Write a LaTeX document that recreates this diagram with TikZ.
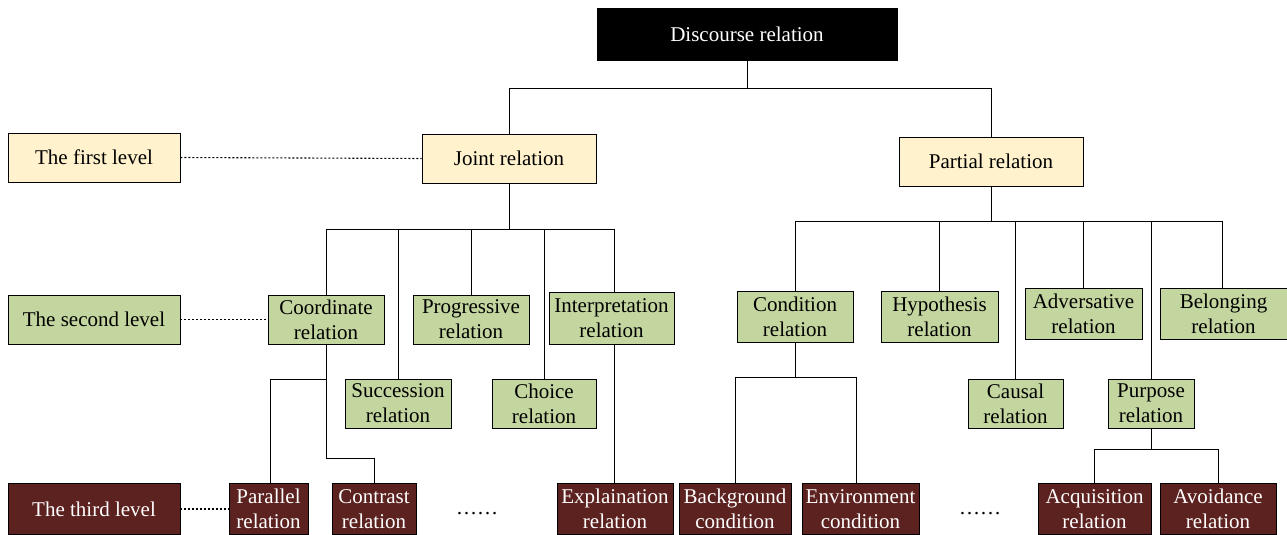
\documentclass[tikz,border=0pt]{standalone}
\usepackage{fontspec}
\setmainfont{Liberation Serif}
\definecolor{yellowbg}{HTML}{FFF2CC}
\definecolor{greenbg}{HTML}{C4D69F}
\definecolor{redbg}{HTML}{5C2220}
\begin{document}
\begin{tikzpicture}[x=1pt,y=-1pt,
  box/.style={draw=black, line width=0.9pt, align=center, inner sep=0pt,
    font=\fontsize{21}{25}\selectfont},
  lvlA/.style={box, fill=yellowbg},
  lvlB/.style={box, fill=greenbg},
  lvlC/.style={box, fill=redbg, text=white},
  root/.style={box, fill=black, text=white},
  link/.style={line width=1pt},
  guide/.style={line width=1.1pt, dash pattern=on 2pt off 2pt},
  dots/.style={inner sep=0pt, font=\fontsize{21}{25}\selectfont}]
\useasboundingbox (0,0) rectangle (1287,535);

% root
\node[root, minimum width=300, minimum height=52] (disc) at (747,34) {Discourse relation};

% first level
\node[lvlA, minimum width=172, minimum height=49] (lv1) at (94,157.5) {The first level};
\node[lvlA, minimum width=174, minimum height=49] (joint) at (509,158.5) {Joint relation};
\node[lvlA, minimum width=184, minimum height=49] (partial) at (991,161.5) {Partial relation};

% second level
\node[lvlB, minimum width=172, minimum height=49] (lv2) at (94,319.5) {The second level};
\node[lvlB, minimum width=116, minimum height=49] (coord) at (326,319.5) {Coordinate\\relation};
\node[lvlB, minimum width=116, minimum height=49] (progr) at (471,319.5) {Progressive\\relation};
\node[lvlB, minimum width=125, minimum height=52] (interp) at (611.5,318) {Interpretation\\relation};
\node[lvlB, minimum width=106, minimum height=49] (succ) at (398,403.5) {Succession\\relation};
\node[lvlB, minimum width=104, minimum height=49] (choice) at (544,403.5) {Choice\\relation};

\node[lvlB, minimum width=116, minimum height=51] (cond) at (795,316.5) {Condition\\relation};
\node[lvlB, minimum width=117, minimum height=51] (hypo) at (939.5,316.5) {Hypothesis\\relation};
\node[lvlB, minimum width=117, minimum height=51] (adver) at (1083.5,313.5) {Adversative\\relation};
\node[lvlB, minimum width=127, minimum height=51] (belong) at (1223.5,313.5) {Belonging\\relation};
\node[lvlB, minimum width=95, minimum height=49] (causal) at (1015.5,403.5) {Causal\\relation};
\node[lvlB, minimum width=86, minimum height=49] (purpose) at (1151,403.5) {Purpose\\relation};

% third level
\node[lvlC, minimum width=172, minimum height=51] (lv3) at (94,509) {The third level};
\node[lvlC, minimum width=79, minimum height=51] (para) at (268.5,509) {Parallel\\relation};
\node[lvlC, minimum width=84, minimum height=51] (contr) at (374,509) {Contrast\\relation};
\node[lvlC, minimum width=116, minimum height=51] (expl) at (615,509) {Explaination\\relation};
\node[lvlC, minimum width=112, minimum height=51] (backg) at (735,509) {Background\\condition};
\node[lvlC, minimum width=117, minimum height=51] (envir) at (860.5,509) {Environment\\condition};
\node[lvlC, minimum width=113, minimum height=51] (acqui) at (1094.5,509) {Acquisition\\relation};
\node[lvlC, minimum width=116, minimum height=51] (avoid) at (1218,509) {Avoidance\\relation};

\node[dots] (gapA) at (477,514) {……};
\node[dots] (gapB) at (980,514) {……};

% level guides
\draw[guide] (lv1.east) -- (joint.west);
\draw[guide] (lv2.east) -- (coord.west);
\draw[guide] (lv3.east) -- (para.west);

% root to first level
\draw[link] (disc.south) -- (disc.south |- 0,88);
\draw[link] (joint.north) -- (joint.north |- 0,88) -| (partial.north);

% joint relation branches
\draw[link] (joint.south) -- (joint.south |- 0,229);
\draw[link] (coord.north) -- (coord.north |- 0,229) -| (interp.north -| 614,0);
\draw[link] (succ.north) -- (succ.north |- 0,229);
\draw[link] (progr.north) -- (progr.north |- 0,229);
\draw[link] (choice.north) -- (choice.north |- 0,229);

% partial relation branches
\draw[link] (partial.south) -- (partial.south |- 0,221);
\draw[link] (cond.north) -- (cond.north |- 0,221) -| (belong.north -| 1222,0);
\draw[link] (hypo.north) -- (hypo.north |- 0,221);
\draw[link] (causal.north) -- (causal.north |- 0,221);
\draw[link] (adver.north) -- (adver.north |- 0,221);
\draw[link] (purpose.north) -- (purpose.north |- 0,221);

% third level links
\draw[link] (coord.south) -- (coord.south |- 0,458) -| (contr.north);
\draw[link] (para.north -| 270,0) |- (coord.south |- 0,379);
\draw[link] (interp.south -| 614,0) -- (expl.north -| 614,0);
\draw[link] (cond.south) -- (cond.south |- 0,377);
\draw[link] (backg.north) -- (backg.north |- 0,377) -| (envir.north -| 856,0);
\draw[link] (purpose.south) -- (purpose.south |- 0,449);
\draw[link] (acqui.north) -- (acqui.north |- 0,449) -| (avoid.north);
\end{tikzpicture}
\end{document}
